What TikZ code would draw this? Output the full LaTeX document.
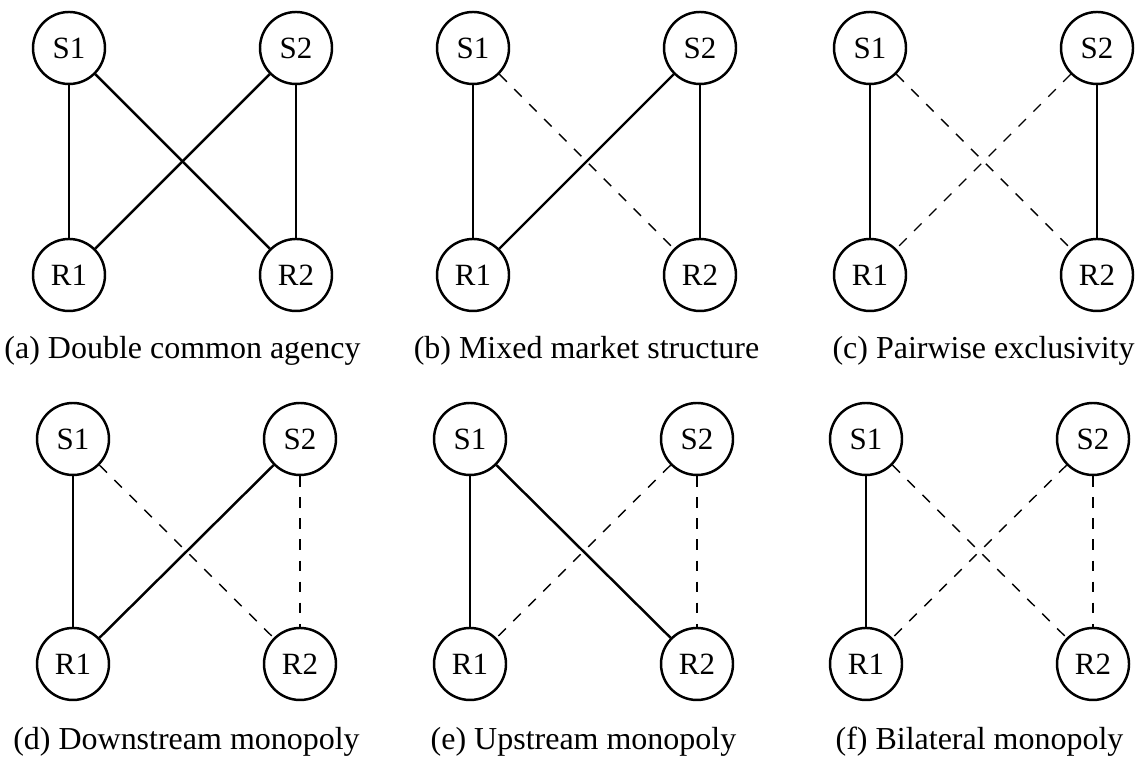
\documentclass[tikz,border=0pt]{standalone}
\usepackage{fontspec}
\setmainfont{Liberation Serif}
\begin{document}
\begin{tikzpicture}[
    agent/.style={circle, draw, line width=0.7pt, minimum size=0.72cm, inner sep=0pt, font=\fontsize{8.8}{10}\selectfont},
    deal/.style={line width=0.7pt},
    nodeal/.style={thin, dashed},
    subcap/.style={anchor=base, font=\fontsize{9.1}{11}\selectfont}]
  \useasboundingbox (0,0) rectangle (11.35,7.6);
  % (a) all four links
  \node[agent] (aS1) at (0.69,7.12) {S1}; \node[agent] (aS2) at (2.96,7.12) {S2};
  \node[agent] (aR1) at (0.69,4.85) {R1}; \node[agent] (aR2) at (2.96,4.85) {R2};
  \draw[deal] (aS1) -- (aR1); \draw[deal] (aS1) -- (aR2); \draw[deal] (aS2) -- (aR1); \draw[deal] (aS2) -- (aR2);
  \node[subcap] (acap) at (1.825,4.01) {(a) Double common agency};
  % (b)
  \node[agent] (bS1) at (4.73,7.12) {S1}; \node[agent] (bS2) at (7.00,7.12) {S2};
  \node[agent] (bR1) at (4.73,4.85) {R1}; \node[agent] (bR2) at (7.00,4.85) {R2};
  \draw[deal] (bS1) -- (bR1); \draw[nodeal] (bS1) -- (bR2); \draw[deal] (bS2) -- (bR1); \draw[deal] (bS2) -- (bR2);
  \node[subcap] (bcap) at (5.865,4.01) {(b) Mixed market structure};
  % (c)
  \node[agent] (cS1) at (8.70,7.12) {S1}; \node[agent] (cS2) at (10.97,7.12) {S2};
  \node[agent] (cR1) at (8.70,4.85) {R1}; \node[agent] (cR2) at (10.97,4.85) {R2};
  \draw[deal] (cS1) -- (cR1); \draw[nodeal] (cS1) -- (cR2); \draw[nodeal] (cS2) -- (cR1); \draw[deal] (cS2) -- (cR2);
  \node[subcap] (ccap) at (9.835,4.01) {(c) Pairwise exclusivity};
  % (d)
  \node[agent] (dS1) at (0.73,3.21) {S1}; \node[agent] (dS2) at (3.00,3.21) {S2};
  \node[agent] (dR1) at (0.73,0.96) {R1}; \node[agent] (dR2) at (3.00,0.96) {R2};
  \draw[deal] (dS1) -- (dR1); \draw[nodeal] (dS1) -- (dR2); \draw[deal] (dS2) -- (dR1); \draw[nodeal] (dS2) -- (dR2);
  \node[subcap] (dcap) at (1.865,0.10) {(d) Downstream monopoly};
  % (e)
  \node[agent] (eS1) at (4.70,3.21) {S1}; \node[agent] (eS2) at (6.97,3.21) {S2};
  \node[agent] (eR1) at (4.70,0.96) {R1}; \node[agent] (eR2) at (6.97,0.96) {R2};
  \draw[deal] (eS1) -- (eR1); \draw[deal] (eS1) -- (eR2); \draw[nodeal] (eS2) -- (eR1); \draw[nodeal] (eS2) -- (eR2);
  \node[subcap] (ecap) at (5.835,0.10) {(e) Upstream monopoly};
  % (f)
  \node[agent] (fS1) at (8.66,3.21) {S1}; \node[agent] (fS2) at (10.93,3.21) {S2};
  \node[agent] (fR1) at (8.66,0.96) {R1}; \node[agent] (fR2) at (10.93,0.96) {R2};
  \draw[deal] (fS1) -- (fR1); \draw[nodeal] (fS1) -- (fR2); \draw[nodeal] (fS2) -- (fR1); \draw[nodeal] (fS2) -- (fR2);
  \node[subcap] (fcap) at (9.795,0.10) {(f) Bilateral monopoly};
\end{tikzpicture}
\end{document}
